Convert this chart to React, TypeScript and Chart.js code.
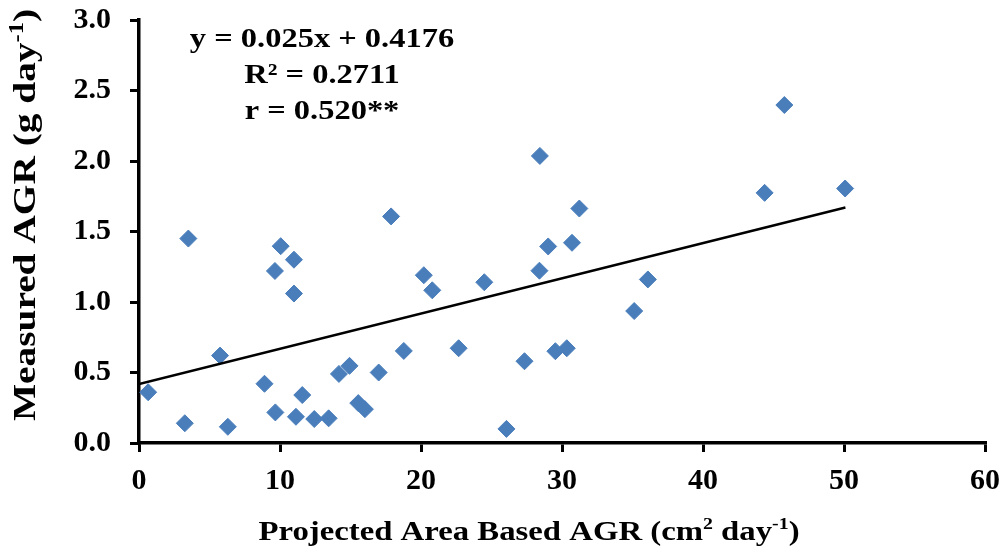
import React, { useEffect, useRef } from "react";
import { Chart, registerables } from "chart.js";

Chart.register(...registerables);

// Data
const projectedAGR = [
  0.65, 3.25, 3.5, 5.75, 6.3, 8.9, 9.64, 9.67, 10.05, 10.99, 10.99, 11.13, 11.58,
  12.43, 13.45, 14.18, 14.93, 15.55, 16.02, 17.0, 17.88, 18.78, 20.2, 20.8, 22.67,
  24.49, 26.06, 27.34, 28.43, 28.4, 29.02, 29.53, 30.34, 30.71, 31.23, 35.12, 36.09,
  44.37, 45.77, 50.08,
];
const measuredAGR = [
  0.36, 0.14, 1.45, 0.62, 0.115, 0.42, 1.22, 0.217, 1.396, 1.3, 1.06, 0.186, 0.34,
  0.17, 0.175, 0.49, 0.547, 0.283, 0.24, 0.5, 1.607, 0.653, 1.19, 1.083, 0.672,
  1.14, 0.1, 0.58, 2.036, 1.222, 1.394, 0.651, 0.672, 1.42, 1.663, 0.936, 1.16,
  1.774, 2.397, 1.805,
];
const xTickValues = [0, 10, 20, 30, 40, 50, 60];
const yTickValues = [0, 0.5, 1.0, 1.5, 2.0, 2.5, 3.0];
const trendSlope = 0.025;
const trendIntercept = 0.4176;
const trendXRange = [0, 50.1];
const equationLines = ["y = 0.025x + 0.4176", "R² = 0.2711", "r = 0.520**"];
const xTitleParts: [string, boolean][] = [
  ["Projected Area Based AGR (cm", false],
  ["2", true],
  [" day", false],
  ["-1", true],
  [")", false],
];
const yTitleParts: [string, boolean][] = [
  ["Measured AGR (g day", false],
  ["-1", true],
  [")", false],
];

const FONT = '"Liberation Serif", "Times New Roman", serif';

function drawRich(
  ctx: CanvasRenderingContext2D,
  parts: [string, boolean][],
  size: number,
  cx: number,
  baseline: number
) {
  const supSize = Math.round(size * 0.62);
  const widths = parts.map(([t, sup]) => {
    ctx.font = `bold ${sup ? supSize : size}px ${FONT}`;
    return ctx.measureText(t).width;
  });
  const total = widths.reduce((a, b) => a + b, 0);
  let x = cx - total / 2;
  ctx.textAlign = "left";
  ctx.textBaseline = "alphabetic";
  parts.forEach(([t, sup], i) => {
    ctx.font = `bold ${sup ? supSize : size}px ${FONT}`;
    ctx.fillText(t, x, sup ? baseline - size * 0.38 : baseline);
    x += widths[i];
  });
}

const textPlugin = {
  id: "textPlugin",
  afterDraw(chart: any) {
    const ctx: CanvasRenderingContext2D = chart.ctx;
    ctx.save();
    ctx.fillStyle = "#000";
    // regression annotation
    ctx.save();
    ctx.translate(322, 0);
    ctx.scale(1.16, 1);
    ctx.font = `bold 28px ${FONT}`;
    ctx.textAlign = "center";
    ctx.textBaseline = "alphabetic";
    equationLines.forEach((t, i) => ctx.fillText(t, 0, 47 + i * 36));
    ctx.restore();
    // x title
    ctx.save();
    ctx.translate(529, 540);
    ctx.scale(1.17, 1);
    drawRich(ctx, xTitleParts, 28, 0, 0);
    ctx.restore();
    // y title
    ctx.save();
    ctx.translate(35, 215);
    ctx.rotate(-Math.PI / 2);
    ctx.scale(1.23, 1);
    drawRich(ctx, yTitleParts, 32, 0, 0);
    ctx.restore();
    ctx.restore();
  },
};

const zeroPad = (s: any) => {
  s.paddingTop = 0;
  s.paddingBottom = 0;
  s.paddingLeft = 0;
  s.paddingRight = 0;
};

export default function App() {
  const ref = useRef<HTMLCanvasElement | null>(null);
  useEffect(() => {
    document.body.style.margin = "0";
    const canvas = ref.current!;
    const scatter = projectedAGR.map((x, i) => ({ x, y: measuredAGR[i] }));
    const trend = trendXRange.map((x) => ({ x, y: trendSlope * x + trendIntercept }));
    const chart = new Chart(canvas, {
      type: "scatter",
      data: {
        datasets: [
          {
            label: "Trend",
            data: trend,
            showLine: true,
            borderColor: "#000",
            borderWidth: 2.5,
            pointRadius: 0,
            pointHoverRadius: 0,
          },
          {
            label: "AGR",
            data: scatter,
            pointStyle: "rectRot",
            pointRadius: 8.5,
            pointHoverRadius: 8.5,
            backgroundColor: "#4A7EBB",
            borderColor: "#4A7EBB",
            borderWidth: 1,
          },
        ],
      },
      options: {
        animation: false,
        responsive: false,
        maintainAspectRatio: false,
        layout: { padding: { left: 0, right: 23, top: 20, bottom: 0 } },
        plugins: {
          legend: { display: false },
          tooltip: { enabled: false },
        },
        scales: {
          x: {
            type: "linear",
            min: 0,
            max: 60,
            afterFit: (s: any) => {
              s.height = 111;
              zeroPad(s);
            },
            afterBuildTicks: (s: any) => {
              s.ticks = xTickValues.map((v) => ({ value: v }));
            },
            ticks: {
              color: "#000",
              font: { family: FONT, size: 30, weight: "bold" },
              padding: 11,
              maxRotation: 0,
              callback: (v: any) => String(v),
            },
            grid: {
              drawOnChartArea: false,
              color: "#000",
              lineWidth: 3,
              tickLength: 9,
            },
            border: { color: "#000", width: 3.5 },
          },
          y: {
            type: "linear",
            min: 0,
            max: 3,
            afterFit: (s: any) => {
              s.width = 139;
              zeroPad(s);
            },
            afterBuildTicks: (s: any) => {
              s.ticks = yTickValues.map((v) => ({ value: v }));
            },
            ticks: {
              color: "#000",
              font: { family: FONT, size: 30, weight: "bold" },
              padding: 19,
              callback: (v: any) => Number(v).toFixed(1),
            },
            grid: {
              drawOnChartArea: false,
              color: "#000",
              lineWidth: 3,
              tickLength: 9,
            },
            border: { color: "#000", width: 3.5 },
          },
        },
      },
      plugins: [textPlugin],
    });
    return () => chart.destroy();
  }, []);
  return (
    <div style={{ width: 1008, height: 554, background: "#fff" }}>
      <canvas ref={ref} width={1008} height={554} style={{ display: "block" }} />
    </div>
  );
}
